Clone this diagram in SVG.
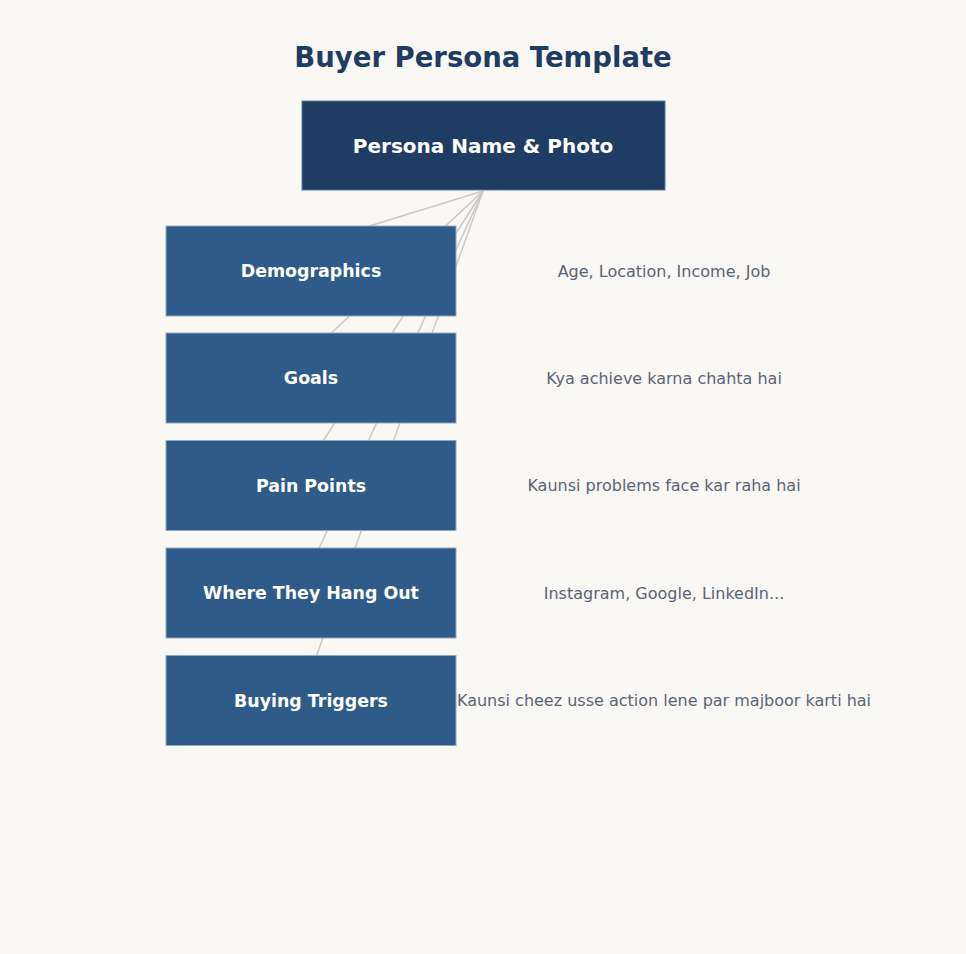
<svg xmlns="http://www.w3.org/2000/svg" width="966" height="954" viewBox="0 0 966 954">
<style>
.bg{fill:#f9f8f5}
.title{font-family:"DejaVu Sans",sans-serif;font-weight:bold;font-size:27.5px;fill:#1f3d63;text-anchor:middle}
.root{fill:#1f3d63;stroke:#5f7a99;stroke-width:1}
.cat{fill:#2e5b88;stroke:#8fa8c2;stroke-width:1}
.rt{font-family:"DejaVu Sans",sans-serif;font-weight:bold;font-size:20px;fill:#ffffff;text-anchor:middle}
.ct{font-family:"DejaVu Sans",sans-serif;font-weight:bold;font-size:17.4px;fill:#ffffff;text-anchor:middle}
.dt{font-family:"DejaVu Sans",sans-serif;font-size:16px;fill:#5c6475;text-anchor:middle}
.edge{stroke:#cdc9bf;stroke-width:1.5;fill:none}
</style>
<rect class="bg" x="0" y="0" width="966" height="954"/>
<text class="title" x="483" y="67">Buyer Persona Template</text>
<g id="connectors">
<line class="edge" x1="483" y1="191" x2="311" y2="244"/>
<line class="edge" x1="483" y1="191" x2="311" y2="352"/>
<line class="edge" x1="483" y1="191" x2="311" y2="460"/>
<line class="edge" x1="483" y1="191" x2="311" y2="566"/>
<line class="edge" x1="483" y1="191" x2="311" y2="671"/>
</g>
<g id="persona">
<rect class="root" x="302" y="101" width="363" height="89"/>
<text class="rt" x="483" y="153">Persona Name &amp; Photo</text>
</g>
<g id="demographics">
<rect class="cat" x="166" y="226" width="290" height="90"/>
<text class="ct" x="311" y="277">Demographics</text>
</g>
<g id="goals">
<rect class="cat" x="166" y="333" width="290" height="90"/>
<text class="ct" x="311" y="384">Goals</text>
</g>
<g id="painpoints">
<rect class="cat" x="166" y="440.5" width="290" height="90"/>
<text class="ct" x="311" y="491.5">Pain Points</text>
</g>
<g id="hangout">
<rect class="cat" x="166" y="548" width="290" height="90"/>
<text class="ct" x="311" y="599">Where They Hang Out</text>
</g>
<g id="triggers">
<rect class="cat" x="166" y="655.5" width="290" height="90"/>
<text class="ct" x="311" y="706.5">Buying Triggers</text>
</g>
<g id="descriptions">
<text class="dt" x="664" y="276.5">Age, Location, Income, Job</text>
<text class="dt" x="664" y="383.5">Kya achieve karna chahta hai</text>
<text class="dt" x="664" y="491">Kaunsi problems face kar raha hai</text>
<text class="dt" x="664" y="598.5">Instagram, Google, LinkedIn...</text>
<text class="dt" x="664" y="706">Kaunsi cheez usse action lene par majboor karti hai</text>
</g>
</svg>
